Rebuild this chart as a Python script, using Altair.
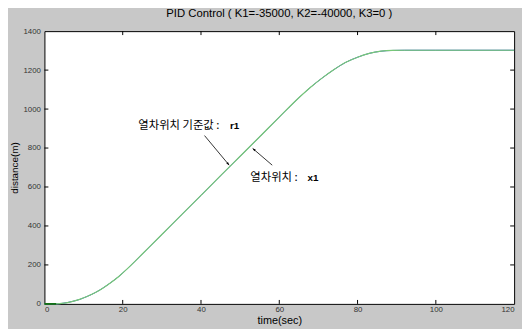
import altair as alt
import pandas as pd

# ---- data ----
T = [0, 3, 5, 7, 9, 11, 13, 15, 17, 19, 21, 23, 25, 30, 35, 40, 45, 50, 55, 60, 65, 68, 71, 74, 77, 80, 83, 86, 89, 92, 100, 110, 120]
R1 = [0, 0, 4, 12, 23, 39, 58, 82, 110, 141, 177, 216, 256, 356, 457, 557, 658, 758, 858, 959, 1058, 1112, 1160, 1203, 1240, 1266, 1286, 1297, 1301, 1302, 1302, 1302, 1302]
X1 = [0, 0, 4, 12, 23, 39, 58, 82, 110, 141, 177, 216, 256, 356, 457, 557, 658, 758, 858, 959, 1058, 1112, 1160, 1203, 1240, 1266, 1286, 1297, 1301, 1302, 1302, 1302, 1302]

X_TICKS = [0, 20, 40, 60, 80, 100, 120]
Y_TICKS = [0, 200, 400, 600, 800, 1000, 1200, 1400]

TITLE = "PID Control ( K1=-35000, K2=-40000, K3=0 )"
X_TITLE = "time(sec)"
Y_TITLE = "distance(m)"

ANN_TEXT = ["열차위치 기준값 :", "열차위치  :"]
ANN_T = [24.0, 52.6]
ANN_D = [915, 646]
ANN_BOLD = ["r1", "x1"]
ANN_BOLD_T = [47.4, 67.2]

ARROW_T0 = [40.9, 58.2]
ARROW_D0 = [864, 712]
ARROW_T1 = [47.2, 53.2]
ARROW_D1 = [712, 798]
ARROW_ANGLE = [140, 310]

W, H = 477, 277
FONT = "Liberation Sans"

df = pd.DataFrame({"t": T, "r1": R1, "x1": X1})
xs = alt.Scale(domain=[0, 120], nice=False, zero=False)
ys = alt.Scale(domain=[0, 1400], nice=False, zero=False)

xaxis = alt.Axis(values=X_TICKS, title=X_TITLE, ticks=False, domain=False, grid=False, format="d",
                 labelFontSize=8, labelColor="#333333", labelFont=FONT, labelPadding=2,
                 titleFont=FONT, titleFontSize=11, titleFontWeight="normal", titleColor="#000000",
                 titlePadding=1, labelOverlap=False)
yaxis = alt.Axis(values=Y_TICKS, title=Y_TITLE, ticks=False, domain=False, grid=False, format="d",
                 labelFontSize=8, labelColor="#333333", labelFont=FONT, labelPadding=4,
                 titleFont=FONT, titleFontSize=10, titleFontWeight="normal", titleColor="#000000",
                 titleX=-30, titleBaseline="middle", labelOverlap=False)

def X(f):
    return alt.X(f, scale=xs, axis=xaxis, title=X_TITLE)

def Y(f):
    return alt.Y(f, scale=ys, axis=yaxis, title=Y_TITLE)

base = alt.Chart(df)
blue = base.mark_line(color="#2a52be", strokeWidth=1.0, interpolate="monotone").encode(
    x=X("t:Q"), y=Y("r1:Q"))
green = base.mark_line(color="#78c878", strokeWidth=1.2, interpolate="monotone").encode(
    x=X("t:Q"), y=Y("x1:Q"))
dark = base.transform_filter("datum.t <= 3").mark_line(color="#006400", strokeWidth=1.5).encode(
    x=X("t:Q"), y=Y("x1:Q"))

# inward ticks
xt = pd.DataFrame({"v": X_TICKS[1:-1]})
yt = pd.DataFrame({"v": Y_TICKS[1:-1]})
tk = dict(color="#000000", strokeWidth=1)
tick_b = alt.Chart(xt).mark_rule(**tk).encode(x=X("v:Q"), y=alt.value(H), y2=alt.value(H - 4))
tick_t = alt.Chart(xt).mark_rule(**tk).encode(x=X("v:Q"), y=alt.value(0), y2=alt.value(4))
tick_l = alt.Chart(yt).mark_rule(**tk).encode(y=Y("v:Q"), x=alt.value(0), x2=alt.value(4))
tick_r = alt.Chart(yt).mark_rule(**tk).encode(y=Y("v:Q"), x=alt.value(W), x2=alt.value(W - 4))

# annotations
ann = pd.DataFrame({"t": ANN_T, "d": ANN_D, "txt": ANN_TEXT, "bt": ANN_BOLD_T, "b": ANN_BOLD})
ann_text = alt.Chart(ann).mark_text(align="left", baseline="middle", font="Noto Sans CJK KR",
                                    fontSize=11.5, color="#000000").encode(
    x=X("t:Q"), y=Y("d:Q"), text="txt:N")
ann_bold = alt.Chart(ann).mark_text(align="left", baseline="middle", font=FONT, fontWeight="bold",
                                    fontSize=10, color="#000000").encode(
    x=X("bt:Q"), y=Y("d:Q"), text="b:N")

arr = pd.DataFrame({"t0": ARROW_T0, "d0": ARROW_D0, "t1": ARROW_T1, "d1": ARROW_D1, "a": ARROW_ANGLE})
arrow_line = alt.Chart(arr).mark_rule(color="#000000", strokeWidth=0.8).encode(
    x=X("t0:Q"), y=Y("d0:Q"), x2="t1:Q", y2="d1:Q")
arrow_head = alt.Chart(arr).mark_point(shape="M0,0L-0.35,1L0.35,1Z", filled=True, size=40,
                                       color="#000000", opacity=1).encode(
    x=X("t1:Q"), y=Y("d1:Q"), angle=alt.Angle("a:Q", scale=None))

chart = alt.layer(blue, green, dark, tick_b, tick_t, tick_l, tick_r,
                  arrow_line, arrow_head, ann_text, ann_bold).properties(
    width=W, height=H,
    title=alt.TitleParams(TITLE, font=FONT, fontSize=11.5, fontWeight="normal", color="#000000",
                          anchor="middle", frame="group", offset=8),
    autosize=alt.AutoSizeParams(type="none"),
    padding={"left": 37, "top": 21, "right": 8, "bottom": 23},
    background="#c8c8c8",
).configure_view(stroke="#000000", strokeWidth=1, fill="#ffffff")

chart.save("out.html", embed_options={"renderer": "svg", "actions": False})
